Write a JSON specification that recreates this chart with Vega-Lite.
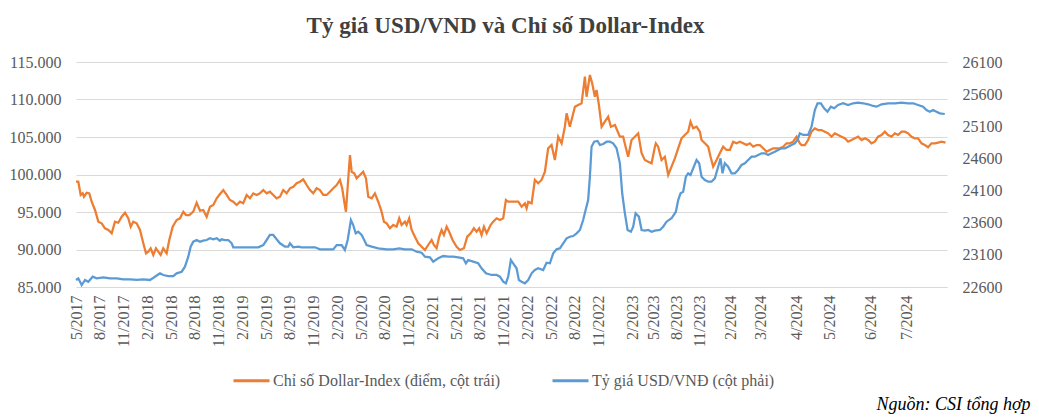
{
  "$schema": "https://vega.github.io/schema/vega-lite/v6.json",
  "width": 871,
  "height": 225,
  "autosize": {"type": "none"},
  "padding": {"left": 76, "top": 62, "right": 92, "bottom": 131},
  "background": "white",
  "title": {
    "text": "Tỷ giá USD/VND và Chỉ số Dollar-Index",
    "font": "Liberation Serif",
    "fontSize": 23,
    "fontWeight": "bold",
    "color": "#404040",
    "anchor": "middle",
    "dx": -6,
    "offset": 16
  },
  "config": {
    "view": {"stroke": null},
    "font": "Liberation Serif"
  },
  "datasets": {
    "dxy": [
      {"t":0,"v":99.04},{"t":0.29,"v":99.04},{"t":0.59,"v":97.27},{"t":0.85,"v":97.49},{"t":1.01,"v":97.04},{"t":1.35,"v":97.57},{"t":1.68,"v":97.49},{"t":1.98,"v":96.37},{"t":2.4,"v":95.27},{"t":2.82,"v":93.71},{"t":3.24,"v":93.49},{"t":3.66,"v":92.83},{"t":4.08,"v":92.6},{"t":4.51,"v":92.16},{"t":4.92,"v":93.71},{"t":5.34,"v":93.57},{"t":5.77,"v":94.37},{"t":6.19,"v":94.91},{"t":6.6,"v":94.16},{"t":6.91,"v":93.04},{"t":7.23,"v":93.71},{"t":7.66,"v":93.49},{"t":8.08,"v":92.6},{"t":8.5,"v":90.83},{"t":8.84,"v":89.49},{"t":9.13,"v":89.71},{"t":9.43,"v":90.16},{"t":9.76,"v":89.27},{"t":10.1,"v":90.16},{"t":10.39,"v":89.71},{"t":10.69,"v":89.27},{"t":11.02,"v":90.16},{"t":11.45,"v":89.49},{"t":11.78,"v":91.27},{"t":12.21,"v":93.04},{"t":12.71,"v":93.93},{"t":13.13,"v":94.16},{"t":13.55,"v":95.04},{"t":13.89,"v":94.6},{"t":14.31,"v":94.6},{"t":14.81,"v":95.04},{"t":15.24,"v":96.24},{"t":15.66,"v":95.17},{"t":16.07,"v":95.27},{"t":16.5,"v":94.37},{"t":16.92,"v":95.71},{"t":17.34,"v":95.93},{"t":17.77,"v":96.83},{"t":18.09,"v":97.27},{"t":18.6,"v":97.93},{"t":19.03,"v":97.27},{"t":19.44,"v":96.6},{"t":19.86,"v":96.37},{"t":20.29,"v":95.93},{"t":20.71,"v":96.37},{"t":21.12,"v":96.16},{"t":21.55,"v":97.27},{"t":21.97,"v":96.83},{"t":22.39,"v":97.49},{"t":22.82,"v":97.27},{"t":23.23,"v":97.49},{"t":23.65,"v":97.93},{"t":24.08,"v":97.49},{"t":24.49,"v":97.71},{"t":24.91,"v":97.27},{"t":25.34,"v":96.83},{"t":25.76,"v":97.04},{"t":26.17,"v":97.93},{"t":26.6,"v":97.49},{"t":27.02,"v":98.16},{"t":27.44,"v":98.37},{"t":27.87,"v":98.83},{"t":28.28,"v":99.04},{"t":28.7,"v":99.36},{"t":29.13,"v":98.6},{"t":29.55,"v":97.93},{"t":29.96,"v":97.49},{"t":30.39,"v":98.16},{"t":30.81,"v":97.93},{"t":31.22,"v":97.27},{"t":31.65,"v":97.27},{"t":32.07,"v":97.71},{"t":32.49,"v":98.16},{"t":32.92,"v":98.6},{"t":33.33,"v":99.27},{"t":33.62,"v":98.16},{"t":33.88,"v":96.37},{"t":34.09,"v":95.04},{"t":34.31,"v":98.37},{"t":34.6,"v":102.6},{"t":34.81,"v":100.37},{"t":35.14,"v":100.16},{"t":35.44,"v":99.49},{"t":35.86,"v":99.93},{"t":36.27,"v":100.37},{"t":36.62,"v":99.49},{"t":36.91,"v":97.04},{"t":37.34,"v":96.83},{"t":37.75,"v":97.49},{"t":38.17,"v":96.37},{"t":38.6,"v":95.04},{"t":38.89,"v":93.71},{"t":39.23,"v":93.49},{"t":39.65,"v":92.83},{"t":40.06,"v":93.27},{"t":40.49,"v":93.04},{"t":40.82,"v":94.16},{"t":41.12,"v":93.27},{"t":41.54,"v":93.71},{"t":41.75,"v":93.27},{"t":42.08,"v":94.16},{"t":42.39,"v":92.6},{"t":42.8,"v":91.71},{"t":43.22,"v":90.83},{"t":43.65,"v":90.37},{"t":44.07,"v":89.93},{"t":44.48,"v":90.6},{"t":44.91,"v":91.27},{"t":45.2,"v":90.6},{"t":45.54,"v":90.16},{"t":45.87,"v":91.71},{"t":46.17,"v":92.6},{"t":46.46,"v":91.93},{"t":46.81,"v":93.04},{"t":47.13,"v":92.37},{"t":47.56,"v":91.27},{"t":48.07,"v":90.37},{"t":48.48,"v":89.93},{"t":48.99,"v":90.16},{"t":49.41,"v":91.71},{"t":49.84,"v":92.16},{"t":50.25,"v":92.83},{"t":50.59,"v":92.37},{"t":50.92,"v":92.83},{"t":51.22,"v":91.93},{"t":51.52,"v":93.04},{"t":51.86,"v":92.16},{"t":52.36,"v":93.27},{"t":52.69,"v":93.71},{"t":53.12,"v":94.16},{"t":53.54,"v":93.93},{"t":53.95,"v":94.16},{"t":54.29,"v":96.6},{"t":54.58,"v":96.37},{"t":55.01,"v":96.37},{"t":55.85,"v":96.37},{"t":56.28,"v":95.71},{"t":56.69,"v":96.16},{"t":56.91,"v":95.49},{"t":57.11,"v":96.37},{"t":57.54,"v":96.16},{"t":57.95,"v":99.27},{"t":58.37,"v":98.83},{"t":58.8,"v":99.27},{"t":59.22,"v":100.37},{"t":59.63,"v":103.49},{"t":60.06,"v":103.93},{"t":60.48,"v":101.93},{"t":60.9,"v":105.04},{"t":61.33,"v":104.16},{"t":61.74,"v":106.37},{"t":61.96,"v":108.16},{"t":62.37,"v":106.37},{"t":63.01,"v":109.04},{"t":63.42,"v":109.27},{"t":63.85,"v":109.49},{"t":64.27,"v":113.04},{"t":64.48,"v":110.37},{"t":64.9,"v":113.27},{"t":65.19,"v":112.16},{"t":65.53,"v":110.37},{"t":65.74,"v":111.27},{"t":66.04,"v":109.27},{"t":66.38,"v":106.37},{"t":66.79,"v":107.04},{"t":67.21,"v":107.71},{"t":67.55,"v":106.37},{"t":68.06,"v":106.6},{"t":68.69,"v":105.04},{"t":69.1,"v":105.04},{"t":69.41,"v":103.71},{"t":69.73,"v":102.37},{"t":70.16,"v":104.6},{"t":70.58,"v":105.04},{"t":71,"v":105.49},{"t":71.43,"v":102.83},{"t":71.84,"v":101.93},{"t":72.26,"v":101.71},{"t":72.69,"v":101.49},{"t":73.11,"v":103.71},{"t":73.23,"v":104.16},{"t":73.52,"v":103.71},{"t":73.95,"v":101.93},{"t":74.37,"v":102.37},{"t":74.79,"v":99.93},{"t":75.21,"v":101.04},{"t":75.63,"v":102.16},{"t":76.05,"v":103.49},{"t":76.48,"v":104.83},{"t":76.89,"v":105.27},{"t":77.31,"v":105.71},{"t":77.61,"v":107.04},{"t":77.94,"v":106.16},{"t":78.37,"v":106.37},{"t":78.79,"v":105.71},{"t":79,"v":104.6},{"t":79.42,"v":104.16},{"t":79.84,"v":103.71},{"t":80.14,"v":102.37},{"t":80.47,"v":101.04},{"t":80.9,"v":101.93},{"t":81.31,"v":102.83},{"t":81.73,"v":103.71},{"t":82.16,"v":103.27},{"t":82.58,"v":103.27},{"t":82.99,"v":104.37},{"t":83.42,"v":104.16},{"t":83.84,"v":104.37},{"t":84.26,"v":104.16},{"t":84.68,"v":103.93},{"t":85.1,"v":104.16},{"t":85.52,"v":103.71},{"t":85.95,"v":103.93},{"t":86.36,"v":103.93},{"t":86.78,"v":103.49},{"t":87.21,"v":103.04},{"t":87.63,"v":103.27},{"t":88.04,"v":103.49},{"t":88.47,"v":103.49},{"t":88.89,"v":103.49},{"t":89.31,"v":103.71},{"t":89.73,"v":104.16},{"t":90.15,"v":104.16},{"t":90.57,"v":104.37},{"t":91,"v":105.04},{"t":91.41,"v":104.16},{"t":91.63,"v":103.93},{"t":92.05,"v":103.93},{"t":92.46,"v":104.6},{"t":92.89,"v":105.71},{"t":93.31,"v":106.16},{"t":93.72,"v":105.93},{"t":94.15,"v":105.93},{"t":94.57,"v":105.71},{"t":94.99,"v":105.49},{"t":95.42,"v":105.04},{"t":95.83,"v":105.49},{"t":96.25,"v":105.27},{"t":96.68,"v":105.04},{"t":97.1,"v":104.83},{"t":97.51,"v":104.37},{"t":97.94,"v":104.6},{"t":98.36,"v":104.83},{"t":98.78,"v":105.04},{"t":99.21,"v":104.6},{"t":99.62,"v":104.83},{"t":100.04,"v":104.6},{"t":100.47,"v":104.16},{"t":100.88,"v":104.37},{"t":101.3,"v":105.04},{"t":101.73,"v":105.27},{"t":102.15,"v":105.71},{"t":102.56,"v":105.27},{"t":102.99,"v":105.04},{"t":103.41,"v":105.49},{"t":103.83,"v":105.27},{"t":104.26,"v":105.71},{"t":104.67,"v":105.71},{"t":105.09,"v":105.49},{"t":105.52,"v":105.04},{"t":105.93,"v":104.83},{"t":106.35,"v":104.83},{"t":106.78,"v":104.16},{"t":107.2,"v":103.93},{"t":107.61,"v":103.63},{"t":108.04,"v":104.16},{"t":108.46,"v":104.16},{"t":108.88,"v":104.24},{"t":109.3,"v":104.37},{"t":109.81,"v":104.24}
    ],
    "vnd": [
      {"t":0,"v":22709},{"t":0.29,"v":22735},{"t":0.72,"v":22631},{"t":1.14,"v":22709},{"t":1.55,"v":22682},{"t":2.11,"v":22760},{"t":2.61,"v":22735},{"t":3.45,"v":22751},{"t":4.29,"v":22735},{"t":5.14,"v":22735},{"t":5.97,"v":22720},{"t":6.82,"v":22720},{"t":7.66,"v":22709},{"t":8.5,"v":22720},{"t":9.34,"v":22709},{"t":9.68,"v":22735},{"t":10.1,"v":22771},{"t":10.61,"v":22813},{"t":11.02,"v":22787},{"t":11.65,"v":22771},{"t":12.29,"v":22771},{"t":12.71,"v":22813},{"t":13.35,"v":22838},{"t":13.76,"v":22916},{"t":14.18,"v":23071},{"t":14.48,"v":23227},{"t":14.81,"v":23305},{"t":15.24,"v":23331},{"t":15.66,"v":23305},{"t":16.07,"v":23320},{"t":16.5,"v":23331},{"t":16.92,"v":23358},{"t":17.34,"v":23342},{"t":17.77,"v":23358},{"t":18.18,"v":23320},{"t":18.4,"v":23342},{"t":18.81,"v":23331},{"t":19.23,"v":23331},{"t":19.66,"v":23280},{"t":19.86,"v":23218},{"t":20.49,"v":23218},{"t":21.34,"v":23218},{"t":22.18,"v":23218},{"t":23.02,"v":23218},{"t":23.65,"v":23253},{"t":24.08,"v":23331},{"t":24.49,"v":23409},{"t":24.91,"v":23409},{"t":25.34,"v":23342},{"t":25.76,"v":23280},{"t":26.39,"v":23227},{"t":26.81,"v":23227},{"t":27.02,"v":23280},{"t":27.44,"v":23218},{"t":28.07,"v":23227},{"t":28.5,"v":23218},{"t":29.33,"v":23218},{"t":30.18,"v":23218},{"t":30.81,"v":23186},{"t":31.65,"v":23186},{"t":32.49,"v":23186},{"t":32.92,"v":23253},{"t":33.55,"v":23253},{"t":33.96,"v":23176},{"t":34.31,"v":23331},{"t":34.72,"v":23642},{"t":35.01,"v":23564},{"t":35.32,"v":23435},{"t":35.64,"v":23460},{"t":36.07,"v":23409},{"t":36.4,"v":23331},{"t":36.7,"v":23253},{"t":37.34,"v":23227},{"t":38.17,"v":23202},{"t":39.23,"v":23186},{"t":40.06,"v":23186},{"t":40.82,"v":23202},{"t":41.54,"v":23186},{"t":42.39,"v":23186},{"t":43.02,"v":23149},{"t":43.65,"v":23134},{"t":44.07,"v":23071},{"t":44.7,"v":23062},{"t":45.11,"v":22994},{"t":45.74,"v":23046},{"t":46.38,"v":23082},{"t":47.01,"v":23071},{"t":47.64,"v":23071},{"t":48.27,"v":23062},{"t":48.9,"v":23046},{"t":49.24,"v":22969},{"t":49.53,"v":23020},{"t":50.16,"v":22994},{"t":50.79,"v":22969},{"t":51.22,"v":22891},{"t":51.77,"v":22813},{"t":52.49,"v":22787},{"t":53.12,"v":22787},{"t":53.54,"v":22760},{"t":53.95,"v":22682},{"t":54.29,"v":22658},{"t":54.58,"v":22760},{"t":54.92,"v":23020},{"t":55.21,"v":22969},{"t":55.64,"v":22891},{"t":55.93,"v":22709},{"t":56.28,"v":22682},{"t":56.69,"v":22658},{"t":57.11,"v":22709},{"t":57.54,"v":22813},{"t":57.95,"v":22864},{"t":58.37,"v":22891},{"t":59,"v":22864},{"t":59.43,"v":22978},{"t":59.85,"v":22969},{"t":60.27,"v":23124},{"t":60.69,"v":23186},{"t":61.11,"v":23202},{"t":61.53,"v":23280},{"t":61.96,"v":23358},{"t":62.37,"v":23382},{"t":62.79,"v":23393},{"t":63.22,"v":23435},{"t":63.64,"v":23487},{"t":64.05,"v":23642},{"t":64.36,"v":23798},{"t":64.68,"v":23953},{"t":64.9,"v":24316},{"t":65.11,"v":24782},{"t":65.44,"v":24860},{"t":65.87,"v":24871},{"t":66.16,"v":24809},{"t":66.58,"v":24825},{"t":67.01,"v":24860},{"t":67.42,"v":24860},{"t":67.84,"v":24835},{"t":68.27,"v":24758},{"t":68.69,"v":24524},{"t":68.98,"v":24058},{"t":69.32,"v":23746},{"t":69.66,"v":23487},{"t":70.08,"v":23460},{"t":70.37,"v":23538},{"t":70.67,"v":23746},{"t":71.09,"v":23694},{"t":71.43,"v":23487},{"t":71.84,"v":23476},{"t":72.26,"v":23487},{"t":72.69,"v":23460},{"t":73.11,"v":23476},{"t":73.74,"v":23487},{"t":74.15,"v":23538},{"t":74.58,"v":23616},{"t":75.21,"v":23669},{"t":75.76,"v":23771},{"t":76.05,"v":23953},{"t":76.35,"v":24058},{"t":76.68,"v":24082},{"t":77.02,"v":24316},{"t":77.31,"v":24369},{"t":77.61,"v":24342},{"t":77.94,"v":24446},{"t":78.37,"v":24576},{"t":78.7,"v":24524},{"t":79,"v":24316},{"t":79.42,"v":24265},{"t":79.84,"v":24238},{"t":80.26,"v":24238},{"t":80.68,"v":24291},{"t":81.1,"v":24471},{"t":81.4,"v":24602},{"t":81.65,"v":24369},{"t":81.94,"v":24524},{"t":82.36,"v":24471},{"t":82.79,"v":24369},{"t":83.21,"v":24369},{"t":83.62,"v":24420},{"t":84.05,"v":24498},{"t":84.47,"v":24524},{"t":84.89,"v":24576},{"t":85.32,"v":24627},{"t":85.73,"v":24627},{"t":86.15,"v":24653},{"t":86.58,"v":24680},{"t":87,"v":24680},{"t":87.41,"v":24653},{"t":87.84,"v":24680},{"t":88.26,"v":24705},{"t":88.67,"v":24731},{"t":89.1,"v":24758},{"t":89.52,"v":24758},{"t":89.94,"v":24783},{"t":90.37,"v":24809},{"t":90.78,"v":24835},{"t":91.12,"v":24887},{"t":91.41,"v":24991},{"t":91.83,"v":24965},{"t":92.46,"v":24965},{"t":92.89,"v":25094},{"t":93.31,"v":25353},{"t":93.65,"v":25458},{"t":94.07,"v":25458},{"t":94.48,"v":25380},{"t":94.91,"v":25327},{"t":95.33,"v":25405},{"t":95.75,"v":25380},{"t":96.25,"v":25431},{"t":96.88,"v":25458},{"t":97.51,"v":25431},{"t":98.14,"v":25458},{"t":98.78,"v":25467},{"t":99.41,"v":25458},{"t":100.04,"v":25442},{"t":100.67,"v":25416},{"t":101.1,"v":25405},{"t":101.73,"v":25442},{"t":102.56,"v":25458},{"t":103.41,"v":25458},{"t":104.26,"v":25467},{"t":105.09,"v":25458},{"t":105.72,"v":25458},{"t":106.35,"v":25431},{"t":106.98,"v":25405},{"t":107.41,"v":25353},{"t":107.83,"v":25327},{"t":108.24,"v":25353},{"t":108.67,"v":25327},{"t":109.09,"v":25302},{"t":109.72,"v":25291}
    ]
  },
  "encoding": {
    "x": {
      "field": "t",
      "type": "quantitative",
      "scale": {"domain": [0, 110], "nice": false, "zero": false},
      "axis": {
        "title": "Nguồn: CSI tổng hợp",
        "titleFont": "Liberation Serif",
        "titleFontSize": 18,
        "titleFontStyle": "italic",
        "titleFontWeight": "normal",
        "titleColor": "#000000",
        "titleAnchor": "end",
        "titleAlign": "right",
        "titleBaseline": "alphabetic",
        "titleX": 954,
        "titleY": 122,
        "values": [0,3,6,9,12,15,18,21,24,27,30,33,36,39,42,45,48,51,54,57,60,63,66,70.3,72.9,75.9,78.8,82.6,86.4,91,95.2,100.3,104.9],
        "labelExpr": "['5/2017','8/2017','11/2017','2/2018','5/2018','8/2018','11/2018','2/2019','5/2019','8/2019','11/2019','2/2020','5/2020','8/2020','11/2020','2/2021','5/2021','8/2021','11/2021','2/2022','5/2022','8/2022','11/2022','2/2023','5/2023','8/2023','11/2023','2/2024','3/2024','4/2024','5/2024','6/2024','7/2024'][indexof([0,3,6,9,12,15,18,21,24,27,30,33,36,39,42,45,48,51,54,57,60,63,66,70.3,72.9,75.9,78.8,82.6,86.4,91,95.2,100.3,104.9], datum.value)]",
        "labelAngle": 270,
        "labelFont": "Liberation Serif",
        "labelFontSize": 16,
        "labelColor": "#595959",
        "labelPadding": 8,
        "labelOverlap": false,
        "labelFlush": false,
        "grid": false,
        "ticks": false,
        "domain": true,
        "domainColor": "#d9d9d9",
        "domainWidth": 1
      }
    }
  },
  "layer": [
    {
      "data": {"name": "dxy"},
      "mark": {"type": "line", "strokeWidth": 2.25, "interpolate": "linear"},
      "encoding": {
        "y": {
          "field": "v",
          "type": "quantitative",
          "scale": {"domain": [85, 115], "nice": false, "zero": false},
          "axis": {
            "title": null,
            "orient": "left",
            "values": [85, 90, 95, 100, 105, 110, 115],
            "format": ".3f",
            "labelFont": "Liberation Serif",
            "labelFontSize": 16,
            "labelColor": "#595959",
            "labelPadding": 15,
            "grid": true,
            "gridColor": "#d9d9d9",
            "gridWidth": 1,
            "ticks": false,
            "domain": false
          }
        },
        "color": {
          "datum": "Chỉ số Dollar-Index (điểm, cột trái)",
          "type": "nominal",
          "scale": {
            "domain": ["Chỉ số Dollar-Index (điểm, cột trái)", "Tỷ giá USD/VNĐ (cột phải)"],
            "range": ["#ED7D31", "#5B9BD5"]
          },
          "legend": {
            "title": null,
            "orient": "none",
            "legendX": 156,
            "legendY": 299,
            "direction": "horizontal",
            "symbolType": "stroke",
            "symbolSize": 1296,
            "symbolStrokeWidth": 3,
            "labelFont": "Liberation Serif",
            "labelFontSize": 16,
            "labelColor": "#595959",
            "labelLimit": 400,
            "labelOffset": 2,
            "columnPadding": 45
          }
        }
      }
    },
    {
      "data": {"name": "vnd"},
      "mark": {"type": "line", "strokeWidth": 2.25, "interpolate": "linear"},
      "encoding": {
        "y": {
          "field": "v",
          "type": "quantitative",
          "scale": {"domain": [22600, 26100], "nice": false, "zero": false},
          "axis": {
            "title": null,
            "orient": "right",
            "values": [22600, 23100, 23600, 24100, 24600, 25100, 25600, 26100],
            "format": "d",
            "labelFont": "Liberation Serif",
            "labelFontSize": 16,
            "labelColor": "#595959",
            "labelPadding": 15,
            "grid": false,
            "ticks": false,
            "domain": false
          }
        },
        "color": {"datum": "Tỷ giá USD/VNĐ (cột phải)", "type": "nominal"}
      }
    }
  ],
  "resolve": {"scale": {"y": "independent"}}
}
